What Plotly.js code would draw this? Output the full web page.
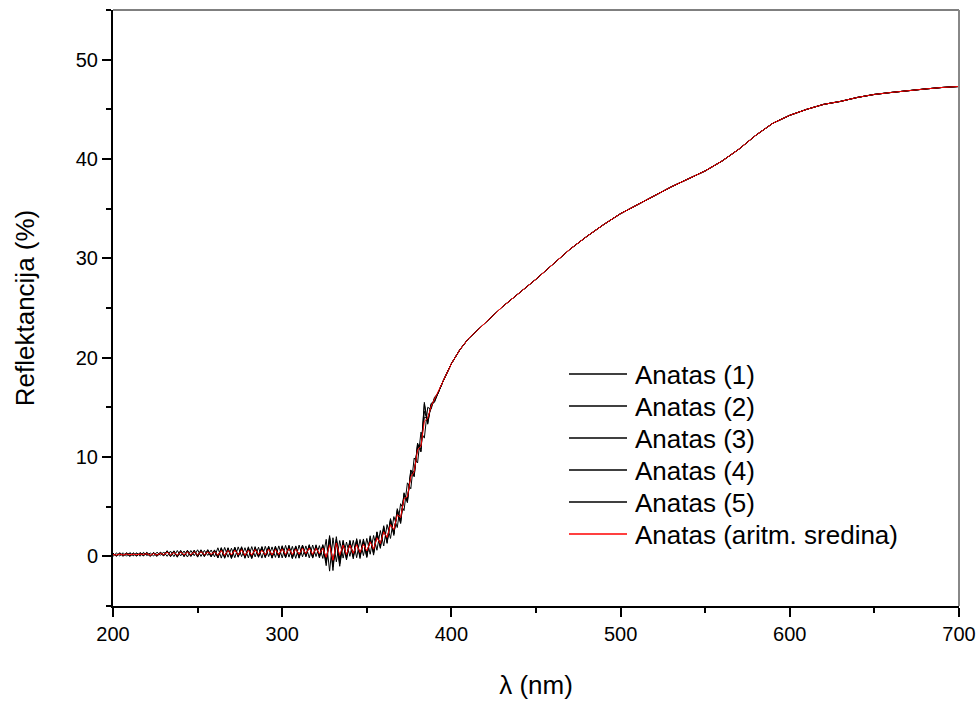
<!DOCTYPE html>
<html>
<head>
<meta charset="utf-8">
<script src="https://cdn.plot.ly/plotly-3.0.1.min.js"></script>
<style>html,body{margin:0;padding:0;background:#fff;}#chart{width:980px;height:709px;}</style>
</head>
<body>
<div id="chart"></div>
<script>
// Wavelengths (nm) for the noisy part of the spectrum (2 nm step)
const lambdaNoisy = [200,202,204,206,208,210,212,214,216,218,220,222,224,226,228,230,232,234,236,238,240,242,244,246,248,250,252,254,256,258,260,262,264,266,268,270,272,274,276,278,280,282,284,286,288,290,292,294,296,298,300,302,304,306,308,310,312,314,316,318,320,322,324,326,328,330,332,334,336,338,340,342,344,346,348,350,352,354,356,358,360,362,364,366,368,370,372,374,376,378,380,382,384,386,388,390];
// Wavelengths and reflectance for the smooth part (all curves coincide)
const lambdaSmooth = [392,395,400,405,410,415,420,430,440,450,460,470,480,490,500,510,520,530,540,550,560,570,580,590,600,610,620,630,640,650,660,670,680,690,700];
const reflSmooth = [16.4,17.6,19.4,20.8,21.9,22.7,23.5,25.1,26.5,27.9,29.4,30.9,32.2,33.4,34.5,35.4,36.3,37.2,38.0,38.8,39.8,41.0,42.4,43.6,44.4,45.0,45.5,45.8,46.2,46.5,46.7,46.9,47.05,47.2,47.3];

const anatas1 = [.32,.01,.36,.05,.32,-.01,.32,.02,.39,.10,.37,.02,.34,.07,.43,.11,.57,-.01,.48,-.09,.56,.06,.61,.01,.54,-.02,.66,.08,.62,-.01,.59,-.17,.78,-.20,.74,-.12,.94,-.04,.90,-.20,.84,-.14,.88,-.01,.99,-.07,.84,-.14,.95,-.01,1.00,-.15,.94,-.17,1.05,-.03,1.14,.06,1.10,-.10,1.06,-.05,1.18,-.66,2.09,-.87,1.67,-.74,1.48,-.25,1.54,-.08,1.68,-.08,1.62,-.04,1.89,.29,2.41,.91,2.94,1.4,3.7,2.25,4.65,3.4,6.3,5.5,8.65,8.1,11.3,10.6,15.3,13.4,15.4,15.6];
const anatas2 = [.25,.07,.29,.00,.37,.05,.26,.07,.33,.03,.41,.07,.29,-.02,.38,.15,.47,.06,.56,-.04,.50,.00,.58,.10,.62,-.08,.56,.01,.68,.06,.50,-.08,.88,-.13,.83,-.23,.85,.04,.97,-.11,.78,-.24,.98,-.10,.89,.03,1.02,-.19,.85,-.08,1.07,-.06,1.03,-.24,.94,-.13,1.08,-.05,1.18,-.18,1.00,.02,1.11,-.39,1.82,-1.43,1.98,-.44,1.62,-.09,1.38,-.25,1.78,.06,1.51,-.12,2.07,.12,2.23,1.04,3.08,1.30,3.60,2.10,4.80,3.60,6.10,5.70,8.40,8.30,11.1,10.8,14.6,13.6,15.2,15.7];
const anatas3 = [.00,.33,.04,.36,.01,.38,.06,.36,.01,.40,.08,.34,.03,.42,.10,.44,.00,.53,-.03,.59,.04,.54,-.07,.59,.06,.66,-.01,.60,.09,.64,-.05,.86,-.18,.90,-.09,.82,-.14,.95,-.03,.87,-.16,.98,-.06,.92,-.18,1.01,-.03,.95,-.11,1.05,-.16,1.10,-.08,1.01,-.20,1.13,-.05,1.05,-.16,1.14,-.02,1.08,-.21,1.71,-1.49,1.87,-.55,1.59,-.18,1.44,.00,1.61,-.14,1.70,.07,1.80,.21,2.10,.61,2.60,1.04,3.20,1.80,4.00,2.90,5.30,4.60,7.40,6.80,9.90,9.40,12.5,11.9,15.0,14.8,16.0];
const anatas4 = [.30,.03,.33,.08,.27,.02,.35,.05,.29,.08,.33,-.01,.39,.04,.33,.08,.54,-.04,.52,.03,.60,-.04,.54,.04,.58,.01,.63,-.04,.58,.03,.65,-.12,.80,-.09,.87,-.16,.83,-.09,.84,-.06,.96,-.15,.79,-.05,.92,-.15,.97,-.05,1.03,-.17,.94,-.11,1.13,-.12,1.00,-.19,1.04,.01,1.08,-.13,1.16,-.17,1.03,-.94,1.93,-.72,1.43,-1.00,1.32,-.36,1.62,.01,1.54,-.22,1.75,.06,1.77,.36,2.47,.80,2.84,1.50,3.80,2.30,4.50,3.30,6.40,5.40,8.70,8.00,11.4,10.5,15.5,13.3,15.3,15.5];
const anatas5 = [.22,.10,.25,.13,.21,.30,.09,.28,.13,.32,.17,.10,.35,.14,.27,.04,.44,.12,.39,.06,.46,.16,.48,-.01,.45,.13,.53,.15,.49,-.06,.55,.06,.69,-.01,.64,.01,.75,.09,.79,-.08,.71,-.04,.84,.11,.80,-.02,.88,.02,.82,.09,.90,-.03,.95,.01,.90,.10,.97,.15,1.00,.03,.93,.11,1.00,-.50,1.60,-1.05,1.70,-.28,1.20,.06,1.32,.17,1.48,.20,1.39,.36,1.59,.60,2.05,1.22,2.60,1.70,3.40,2.50,4.30,3.80,6.00,5.90,8.20,8.60,10.9,11.2,14.0,13.9,15.0,15.9];
const anatasMean = [.19,.12,.23,.13,.24,.15,.22,.16,.23,.19,.27,.10,.28,.13,.30,.17,.41,.13,.39,.12,.43,.15,.43,.15,.45,.14,.47,.17,.44,.20,.45,.11,.60,.09,.60,.13,.63,.14,.67,.09,.62,.11,.69,.18,.61,.14,.73,.13,.70,.18,.75,.20,.78,.17,.74,.21,.82,.27,.84,.19,.81,.25,.84,-.10,1.15,-.40,1.35,.10,1.14,.18,1.14,.29,1.18,.38,1.21,.54,1.47,.72,1.87,1.28,2.48,1.90,3.20,2.70,4.20,3.90,5.80,6.00,8.00,8.50,10.7,11.1,13.6,13.9,15.1,15.8];

const seriesNames = ['Anatas (1)','Anatas (2)','Anatas (3)','Anatas (4)','Anatas (5)','Anatas (aritm. sredina)'];
const seriesData = [anatas1, anatas2, anatas3, anatas4, anatas5, anatasMean];
const seriesColors = ['#000000','#000000','#000000','#000000','#000000','#ff0000'];

const xTickVals = [200,300,400,500,600,700];
const yTickVals = [0,10,20,30,40,50];

const lambdaAll = lambdaNoisy.concat(lambdaSmooth);
const traces = seriesData.map((vals, i) => ({
  x: lambdaAll,
  y: vals.concat(reflSmooth),
  type: 'scatter',
  mode: 'lines',
  name: seriesNames[i],
  line: {color: seriesColors[i], width: 1}
}));

const font = {family: '"Liberation Sans", Arial, sans-serif', color: '#000'};

// Plot area in pixels (for placing the hand-built legend)
const W = 980, H = 709, mL = 113, mR = 21, mT = 10, mB = 103;
const pw = W - mL - mR, ph = H - mT - mB;
const px2x = p => (p - mL) / pw;
const px2y = p => (H - mB - p) / ph;
const legLineX0 = 569, legLineX1 = 627, legTextX = 633, legY0 = 374, legDy = 32;

const legendShapes = seriesNames.map((n, i) => ({
  type: 'line', xref: 'paper', yref: 'paper',
  x0: px2x(legLineX0), x1: px2x(legLineX1),
  y0: px2y(legY0 + i * legDy), y1: px2y(legY0 + i * legDy),
  line: {color: seriesColors[i], width: 1.3}
}));
const legendTexts = seriesNames.map((n, i) => ({
  xref: 'paper', yref: 'paper', x: px2x(legTextX), y: px2y(legY0 + i * legDy + 1),
  xanchor: 'left', yanchor: 'middle', showarrow: false, text: n,
  font: Object.assign({size: 26}, font)
}));

const layout = {
  width: W, height: H,
  margin: {l: mL, r: mR, t: mT, b: mB},
  paper_bgcolor: '#fff', plot_bgcolor: '#fff',
  font: Object.assign({size: 20}, font),
  showlegend: false,
  xaxis: {
    range: [200, 700], tickvals: xTickVals, ticktext: xTickVals.map(String),
    showgrid: false, zeroline: false, showline: true, linecolor: '#000', linewidth: 2,
    ticks: 'outside', ticklen: 9, tickwidth: 2, tickcolor: '#000',
    minor: {dtick: 50, tick0: 200, ticks: 'outside', ticklen: 5, tickwidth: 2, tickcolor: '#000', showgrid: false},
    tickfont: Object.assign({size: 20}, font),
    title: {text: 'λ (nm)', font: Object.assign({size: 26}, font), standoff: 32}
  },
  yaxis: {
    range: [-5, 55], tickvals: yTickVals, ticktext: yTickVals.map(String),
    showgrid: false, zeroline: false, showline: true, linecolor: '#000', linewidth: 2,
    ticks: 'outside', ticklen: 9, tickwidth: 2, tickcolor: '#000',
    minor: {dtick: 5, tick0: -5, ticks: 'outside', ticklen: 5, tickwidth: 2, tickcolor: '#000', showgrid: false},
    tickfont: Object.assign({size: 20}, font),
    title: {text: 'Reflektancija (%)', font: Object.assign({size: 26}, font), standoff: 34}
  },
  shapes: [
    {type: 'line', xref: 'paper', yref: 'paper', x0: 0, x1: 1, y0: 1, y1: 1, line: {color: '#000', width: 1}},
    {type: 'line', xref: 'paper', yref: 'paper', x0: 1, x1: 1, y0: 0, y1: 1, line: {color: '#888', width: 2}}
  ].concat(legendShapes),
  annotations: legendTexts
};

Plotly.newPlot('chart', traces, layout, {displayModeBar: false, responsive: false});
</script>
</body>
</html>
